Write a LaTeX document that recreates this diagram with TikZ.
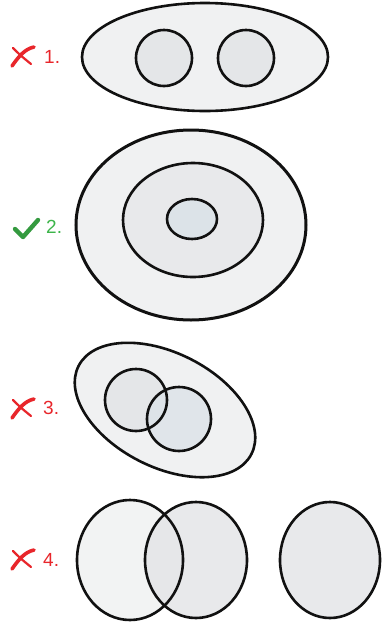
\documentclass[tikz,border=0pt]{standalone}
\usepackage{fontspec}
\setmainfont{Liberation Sans}
\usetikzlibrary{positioning}
\definecolor{qzred}{HTML}{E8262B}
\definecolor{qzgreen}{HTML}{3DB54A}
\definecolor{qzink}{HTML}{111111}
\definecolor{qzpale}{HTML}{F0F1F2}
\definecolor{qzmid}{HTML}{E4E6E8}
\definecolor{qzblue}{HTML}{DCE3E8}
\tikzset{
  ring/.style={draw=qzink, line width=2.6pt},
  num/.style={font=\fontsize{19}{21}\selectfont, anchor=west, inner sep=0pt},
  wrongmark/.pic={
    \draw[qzred, line width=2.2pt, line cap=round] (-9,-8) .. controls (-2,-1) .. (9,8);
    \draw[qzred, line width=3.6pt, line cap=round] (-10,10) .. controls (-3,0) and (3,-7) .. (12,-9);
  },
  rightmark/.pic={
    \draw[qzgreen!85!black, line width=4.4pt, line cap=round, line join=round] (-11,0) -- (-3,8) -- (12,-9);
  },
}

\begin{document}
\begin{tikzpicture}[x=1pt, y=-1pt]
  \useasboundingbox[fill=white] (0,0) rectangle (384,625);

  % 1. two circles apart inside an ellipse
  \fill[qzpale] (205,57) ellipse [x radius=123, y radius=54];
  \draw[ring] (205,57) ellipse [x radius=123, y radius=54];
  \foreach \cx in {164,246}
    \draw[ring, fill=qzmid] (\cx,58) circle [radius=28];
  \pic at (22,56) {wrongmark};
  \node[num, text=qzred] (n1) at (44,57) {1.};

  % 2. nested rings
  \draw[ring, line width=3pt, fill=qzpale] (191,225) ellipse [x radius=115, y radius=95];
  \draw[ring, fill=qzmid!70!qzpale] (193,220) ellipse [x radius=70, y radius=57];
  \draw[ring, fill=qzblue] (192,219) ellipse [x radius=25, y radius=20];
  \pic at (26,229) {rightmark};
  \node[num, text=qzgreen] (n2) at (46,227) {2.};

  % 3. two overlapping circles inside a tilted ellipse
  \draw[ring, fill=qzpale, rotate around={-27:(165,410)}] (165,410) ellipse [x radius=97, y radius=57];
  \fill[qzmid] (136,400) circle [radius=31];
  \fill[qzblue, opacity=0.8] (179,419) circle [radius=32];
  \draw[ring] (136,400) circle [radius=31];
  \draw[ring] (179,419) circle [radius=32];
  \pic at (22,408) {wrongmark};
  \node[num, text=qzred] (n3) at (43,408) {3.};

  % 4. loose circles
  \foreach \cx/\rx/\ry/\col in {130/53/60/qzpale, 196/51/58/qzmid, 330/50/58/qzmid}
    \fill[\col, opacity=0.85] (\cx,560) ellipse [x radius=\rx, y radius=\ry];
  \foreach \cx/\rx/\ry in {130/53/60, 196/51/58, 330/50/58}
    \draw[ring] (\cx,560) ellipse [x radius=\rx, y radius=\ry];
  \pic at (22,559) {wrongmark};
  \node[num, text=qzred] (n4) at (43,560) {4.};
\end{tikzpicture}
\end{document}
